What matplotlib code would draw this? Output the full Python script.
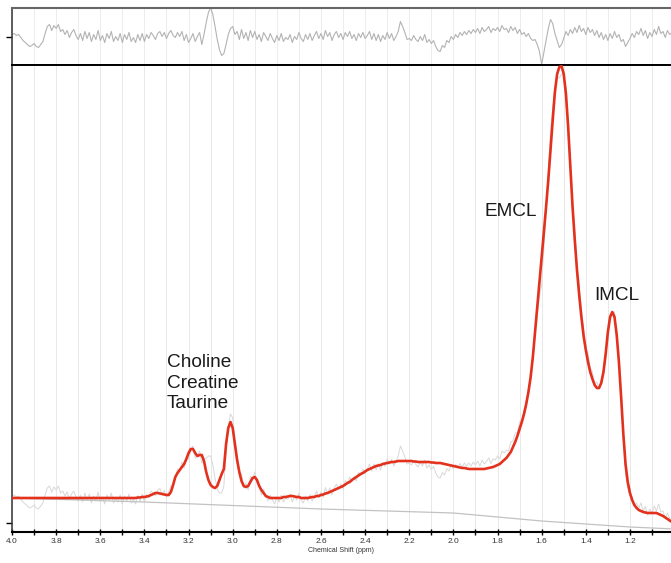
import numpy as np
import matplotlib.pyplot as plt
from matplotlib.ticker import MultipleLocator, FormatStrFormatter

plt.rcParams['font.family'] = ['Liberation Sans', 'DejaVu Sans']

# chemical shift grid, 4.00 -> 1.00 ppm in 0.01 steps
ppm = np.round(np.linspace(4.0, 1.0, 301), 2)

# fitted spectrum (arbitrary units), every 0.01 ppm
fit = [
    34, 34, 34, 34, 34, 34, 34, 34, 34, 34,
    34, 34, 34, 34, 34, 34, 34, 34, 34, 34,
    34, 34, 34, 34, 34, 34, 34, 34, 34, 34,
    34, 34, 34, 34, 34, 34, 34, 34, 34, 34,
    34, 34, 34, 34, 34, 34, 34, 34, 34, 34,
    34, 34, 34, 34, 34, 34, 34, 34.5, 34.5, 35,
    35, 35.5, 36, 37, 38, 39, 39, 38.5, 38, 37.5,
    37, 37, 40, 47, 55, 59, 62, 65, 68, 73,
    79, 83, 83, 79, 76, 77, 77, 71, 60, 52,
    47, 45, 44, 46, 52, 58, 63, 88, 104, 110,
    104, 88, 72, 60, 51, 46, 45, 46, 50, 54,
    55, 52, 46, 42, 39, 36, 35, 34, 34, 34,
    34, 34, 34, 35, 35, 35.5, 36, 36, 35.5, 35,
    35, 34, 34, 34, 34, 34.5, 35, 35, 36, 36,
    37, 37.5, 38.5, 39, 40, 41, 42, 43, 44, 45,
    46, 47.5, 49, 50, 52, 53.5, 55, 56.5, 58, 59,
    60.5, 62, 63, 64, 65, 66, 66.5, 67, 68, 68.5,
    69, 69.5, 70, 70, 70.5, 71, 71, 71, 71, 71,
    71, 71, 70.5, 70.5, 70, 70, 70, 70, 70, 70,
    69.5, 69.5, 69, 69, 69, 68.5, 68, 67.5, 67, 66.5,
    66, 65.5, 65, 64.5, 64, 64, 63.5, 63, 63, 63,
    63, 63, 63, 63, 63, 63.5, 64, 64.5, 65, 66,
    67, 68, 70, 72, 74, 77, 80, 85, 90, 96,
    103, 110, 118, 128, 140, 155, 175, 200, 225, 250,
    275, 300, 325, 352, 382, 412, 440, 458, 465, 466,
    458, 438, 405, 365, 325, 292, 262, 237, 215, 196,
    182, 170, 160, 153, 147, 144, 144, 149, 160, 178,
    200, 215, 220, 215, 197, 170, 135, 98, 68, 50,
    39, 32, 27, 24, 22, 21, 20, 19.5, 19, 19,
    19, 19, 19, 18, 17, 16, 14.5, 13, 11.5, 10,
    9,
]

# residual (data - fit), same grid
residual = [
    2, 3, 1, 2, -1, -4, -6, -8, -10, -9,
    -7, -10, -11, -8, -5, 3, 10, 12, 6, 11,
    8, 12, 5, 7, 2, 6, -1, 4, 7, 1,
    -3, 3, -4, 5, -2, 4, -5, 2, -3, 6,
    -4, 1, -6, 3, -2, 5, -5, 0, -4, 3,
    -6, 2, -3, 4, -5, -1, -6, 2, -4, 3,
    -5, 2, -2, 4, 1, -3, 3, 5, 0, 4,
    -2, 3, 6, 1, -1, 4, 0, 5, -4, 2,
    -6, -2, 3, -5, 0, 4, -8, 2, 14, 24,
    29, 22, 10, -3, -13, -19, -17, -8, 2, 8,
    10, 2, 5, -3, 7, -2, 4, -4, 6, -1,
    5, -3, 2, -5, 4, 0, -4, 3, -2, -6,
    1, -4, 3, -5, -1, -3, 2, -6, 0, -3,
    4, -2, -5, 2, -3, 3, -4, 1, 5, -2,
    3, -3, 6, 0, 4, -4, 2, 5, -1, 3,
    -3, 4, 0, 5, -2, 2, -4, 3, -1, 4,
    -2, 1, 5, -3, 3, -4, 2, -5, 1, -3,
    4, -2, 3, -4, 0, 5, 15, 10, 4, -3,
    -2, -4, 1, -3, -5, 0, -4, 2, -6, -3,
    -7, -4, -10, -14, -15, -9, -11, -4, -6, 0,
    -3, 2, -1, 4, 1, 5, 2, 6, 3, 7,
    4, 8, 3, 9, 5, 7, 10, 4, 8, 6,
    9, 5, 11, 7, 8, 4, 10, 6, 9, 3,
    7, 2, 4, 0, 3, -2, -4, -3, -8, -15,
    -28, -16, -4, 8, 17, 13, 3, -4, -11, -8,
    -2, 5, 1, 7, 3, 9, 4, 11, 5, 8,
    2, 9, 4, 7, 1, 6, -1, 4, -3, 2,
    -4, 3, -2, 5, -1, 2, -5, -3, -10, -6,
    -2, 3, -1, 5, 2, 8, 1, 6, -2, 4,
    0, 7, 2, 10, 3, 5, -1, 6, 2, 4,
    1,
]

# fitted baseline
baseline_ppm = [4.0, 3.4, 2.6, 2.0, 1.6, 1.2, 1.0]
baseline = [34, 30, 23, 19, 11, 5, 3]

peak_labels = ["Choline\nCreatine\nTaurine", "EMCL", "IMCL"]

fit = np.array(fit, dtype=float)
residual = np.array(residual, dtype=float)
data = fit + residual

W, H = 671, 563
XMAX = 1.014  # right edge of the visible window
fig = plt.figure(figsize=(W / 100, H / 100), dpi=100)
ax_res = fig.add_axes([12 / W, 498 / H, 659 / W, 57 / H])
ax = fig.add_axes([12 / W, 31 / H, 659 / W, 467 / H])

# --- main spectrum ---
ax.plot(ppm, data, color='#d8d8d8', lw=0.7, zorder=2)
ax.plot(baseline_ppm, baseline, color='#c2c2c2', lw=0.9, zorder=2)
ax.plot(ppm, fit, color='#e3311d', lw=1.9, zorder=3)

ax.set_xlim(4.0, XMAX)
ax.set_ylim(0, 467)
ax.xaxis.set_major_locator(MultipleLocator(0.2))
ax.xaxis.set_minor_locator(MultipleLocator(0.1))
ax.xaxis.set_major_formatter(FormatStrFormatter('%.1f'))
ax.grid(which='both', axis='x', color='#e8e8e8', lw=0.7)
ax.set_axisbelow(True)
ax.tick_params(axis='x', which='major', direction='inout', length=5, width=1,
               labelsize=6, pad=2, labelcolor='#333333')
ax.tick_params(axis='x', which='minor', direction='inout', length=4, width=1)
ax.set_yticks([9])
ax.set_yticklabels([])
ax.tick_params(axis='y', direction='out', length=4, width=1)
ax.set_xlabel('Chemical Shift (ppm)', fontsize=5, labelpad=1, color='#333333')

ax.spines['right'].set_visible(False)
ax.spines['top'].set_linewidth(1.4)
ax.spines['bottom'].set_linewidth(1.5)
ax.spines['left'].set_linewidth(1.1)
ax.spines['left'].set_color('#333333')

txt = dict(fontsize=13.7, color='#1a1a1a', va='center', ha='left')
ax.text(3.298, 149, peak_labels[0], linespacing=1.25, **txt)
ax.text(1.857, 320, peak_labels[1], **txt)
ax.text(1.363, 236, peak_labels[2], **txt)

# --- residual panel ---
ax_res.plot(ppm, residual, color='#b3b3b3', lw=0.8)
ax_res.set_xlim(4.0, XMAX)
ax_res.set_ylim(-28.5, 28.5)
ax_res.xaxis.set_major_locator(MultipleLocator(0.2))
ax_res.xaxis.set_minor_locator(MultipleLocator(0.1))
ax_res.grid(which='both', axis='x', color='#ececec', lw=0.7)
ax_res.set_axisbelow(True)
ax_res.tick_params(axis='x', which='both', length=0, labelbottom=False)
ax_res.set_yticks([0])
ax_res.set_yticklabels([])
ax_res.tick_params(axis='y', direction='out', length=4, width=1)
ax_res.spines['right'].set_visible(False)
ax_res.spines['top'].set_color('#666666')
ax_res.spines['top'].set_linewidth(1.5)
ax_res.spines['bottom'].set_linewidth(1.4)
ax_res.spines['left'].set_linewidth(1.1)
ax_res.spines['left'].set_color('#333333')

fig.savefig('out.png', dpi=100)
